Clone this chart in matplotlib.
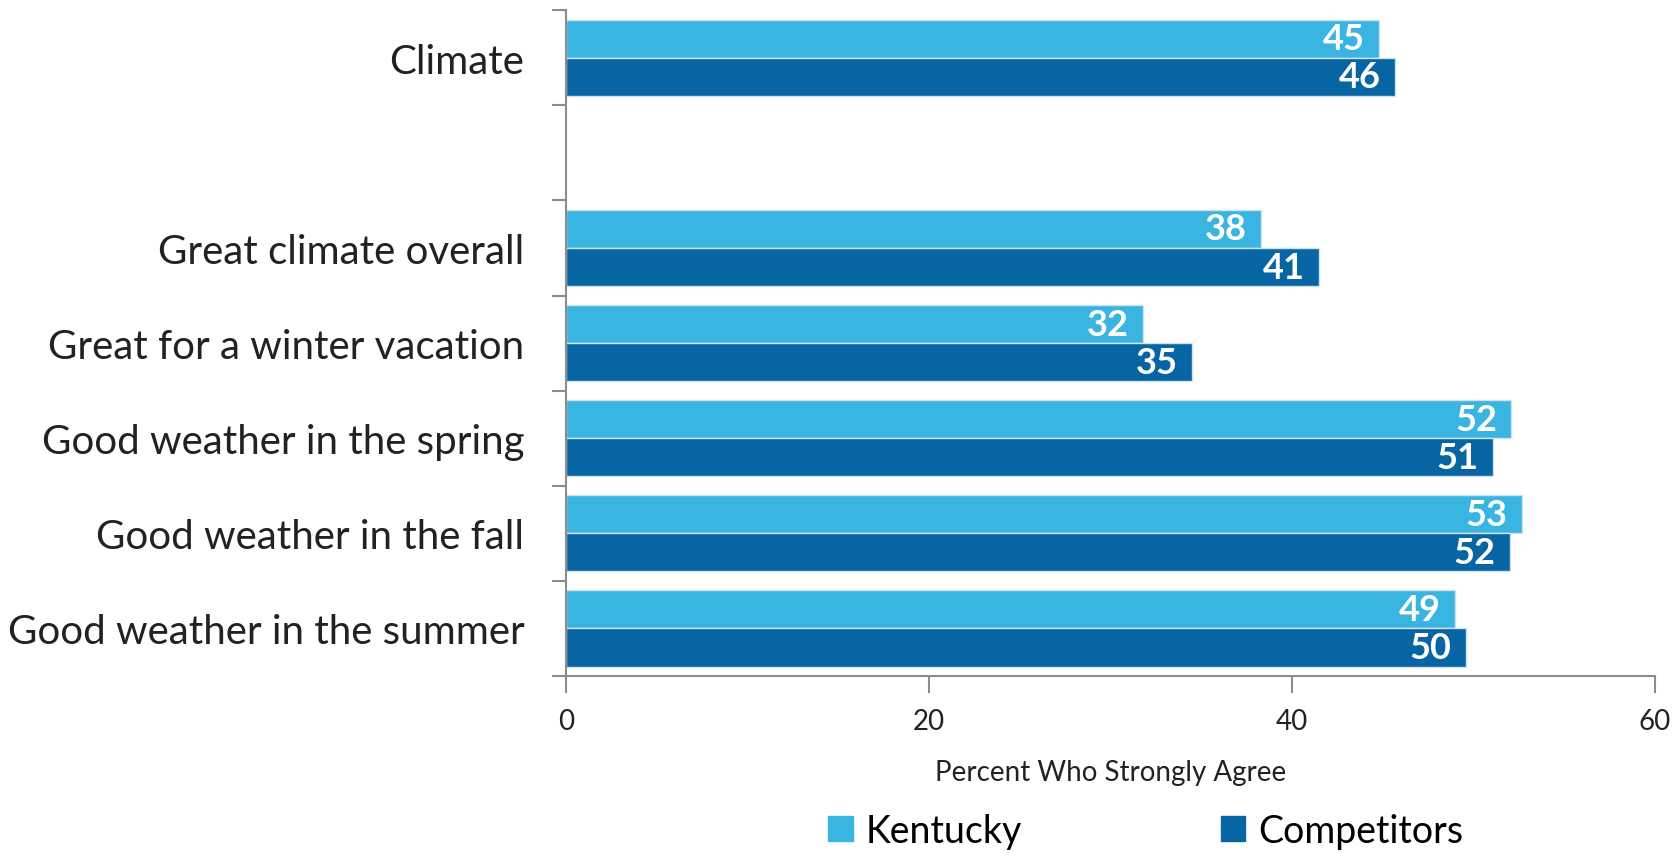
import matplotlib.pyplot as plt
import numpy as np

plt.rcParams['font.family'] = ['Lato', 'DejaVu Sans']

categories = ["Climate", "", "Great climate overall", "Great for a winter vacation",
              "Good weather in the spring", "Good weather in the fall",
              "Good weather in the summer"]
kentucky = [44.8, None, 38.3, 31.8, 52.1, 52.7, 49.0]
competitors = [45.7, None, 41.5, 34.5, 51.1, 52.0, 49.6]
kentucky_labels = ["45", "", "38", "32", "52", "53", "49"]
competitors_labels = ["46", "", "41", "35", "51", "52", "50"]
series_names = ["Kentucky", "Competitors"]
x_ticks = [0, 20, 40, 60]

c_light = "#3ab4e0"
c_dark = "#0765a3"


def main() -> None:
    fig = plt.figure(figsize=(16.8, 8.62), dpi=100)
    ax = fig.add_axes([0.337, 0.2146, 0.648, 0.7724])

    y = np.arange(len(categories))
    h = 0.4
    for i in range(len(categories)):
        if kentucky[i] is None:
            continue
        ax.barh(y[i] - h / 2, kentucky[i], height=h, color=c_light,
                edgecolor="#cfe3ee", linewidth=1)
        ax.barh(y[i] + h / 2, competitors[i], height=h, color=c_dark,
                edgecolor="#cfe3ee", linewidth=1)
        ax.text(kentucky[i] - 0.8, y[i] - h / 2, kentucky_labels[i], color="white",
                fontsize=26, fontweight="bold", ha="right", va="center")
        ax.text(competitors[i] - 0.8, y[i] + h / 2, competitors_labels[i], color="white",
                fontsize=26, fontweight="bold", ha="right", va="center")

    # handles for legend
    k_patch = plt.Rectangle((0, 0), 1, 1, color=c_light)
    c_patch = plt.Rectangle((0, 0), 1, 1, color=c_dark)

    ax.set_ylim(len(categories) - 0.5, -0.5)
    ax.set_xlim(0, 60)
    ax.set_yticks(y)
    ax.set_yticklabels(categories, fontsize=29, color="#222222")
    ax.tick_params(axis="y", which="major", length=0, pad=30)
    ax.set_yticks(np.arange(-0.5, len(categories), 1.0), minor=True)
    ax.tick_params(axis="y", which="minor", length=10, width=1.5, color="#8c8c8c")

    ax.set_xticks(x_ticks)
    ax.set_xticklabels([str(t) for t in x_ticks], fontsize=20, color="#222222")
    ax.tick_params(axis="x", length=12, width=1.5, color="#8c8c8c", pad=11)
    ax.set_xlabel("Percent Who Strongly Agree", fontsize=20, color="#222222", labelpad=18)

    for side in ["top", "right"]:
        ax.spines[side].set_visible(False)
    for side in ["left", "bottom"]:
        ax.spines[side].set_color("#8c8c8c")
        ax.spines[side].set_linewidth(1.5)

    fig.legend([k_patch, c_patch], series_names, loc="center", ncol=2,
               bbox_to_anchor=(0.682, 0.035), frameon=False, fontsize=27,
               handlelength=0.65, handleheight=0.65, handletextpad=0.35,
               columnspacing=5.3)

    fig.savefig("out.png", dpi=100)


if __name__ == "__main__":
    main()
